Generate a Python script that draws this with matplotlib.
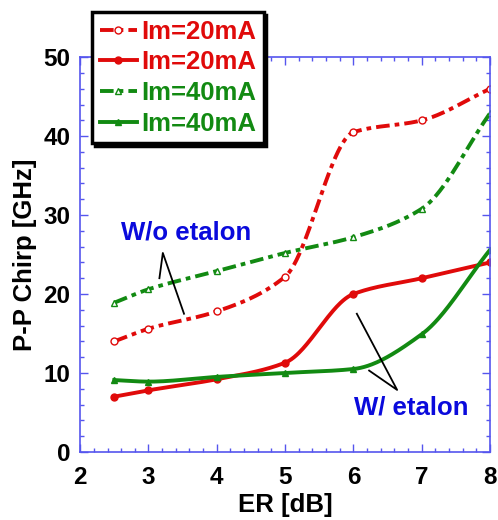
import numpy as np
import matplotlib
matplotlib.use('Agg')
import matplotlib.pyplot as plt
from matplotlib.ticker import MultipleLocator

plt.rcParams['font.family'] = ['Liberation Sans', 'DejaVu Sans']
plt.rcParams['font.weight'] = 'bold'

# datos
er = [2.5, 3, 4, 5, 6, 7, 8]
sin_et_20 = [14.0, 15.6, 17.8, 22.2, 40.5, 42.0, 46.0]
con_et_20 = [7.0, 7.8, 9.2, 11.3, 20.0, 22.0, 24.0]
sin_et_40 = [18.9, 20.6, 22.9, 25.2, 27.2, 30.8, 42.9]
con_et_40 = [9.1, 8.9, 9.5, 10.0, 10.5, 14.9, 25.6]
etiquetas = ['Im=20mA', 'Im=20mA', 'Im=40mA', 'Im=40mA']

rojo = '#e00a0a'
verde = '#128a12'
azul = '#0a0adc'
eje = '#5555ee'


def pchip(x, y, xs):
    # interpolacion cubica monotona (solo para suavizar la curva dibujada)
    x = np.asarray(x, float)
    y = np.asarray(y, float)
    h = np.diff(x)
    d = np.diff(y) / h
    m = np.zeros_like(y)
    for k in range(1, len(x) - 1):
        if d[k-1] * d[k] > 0:
            w1 = 2*h[k] + h[k-1]
            w2 = h[k] + 2*h[k-1]
            m[k] = (w1 + w2) / (w1/d[k-1] + w2/d[k])
    m[0] = d[0]
    m[-1] = d[-1]
    ys = np.empty_like(xs)
    for i, xv in enumerate(xs):
        k = min(np.searchsorted(x, xv, side='right') - 1, len(x) - 2)
        t = (xv - x[k]) / h[k]
        h00 = 2*t**3 - 3*t**2 + 1
        h10 = t**3 - 2*t**2 + t
        h01 = -2*t**3 + 3*t**2
        h11 = t**3 - t**2
        ys[i] = h00*y[k] + h10*h[k]*m[k] + h01*y[k+1] + h11*h[k]*m[k+1]
    return ys


fig = plt.figure(figsize=(4.98, 5.2), dpi=100)
ax = fig.add_axes([0.161, 0.131, 0.823, 0.759])

xs = np.linspace(er[0], er[-1], 300)
guion = (3.5, 1.3, 1.2, 1.3)
series = [
    (sin_et_20, rojo, 'o', True),
    (con_et_20, rojo, 'o', False),
    (sin_et_40, verde, '^', True),
    (con_et_40, verde, '^', False),
]
handles = []
for datos, col, mk, abierto in series:
    ln, = ax.plot(xs, pchip(er, datos, xs), color=col, lw=2.8)
    if abierto:
        ln.set_dashes(guion)
    ax.plot(er, datos, ls='none', marker=mk, ms=5,
            mfc='white' if abierto else col, mec=col, mew=1.0)
    h, = ax.plot([], [], color=col, lw=2.8, marker=mk, ms=5,
                 mfc='white' if abierto else col, mec=col, mew=1.0)
    if abierto:
        h.set_dashes(guion)
    handles.append(h)

ax.set_xlim(2, 8)
ax.set_ylim(0, 50)
ax.xaxis.set_major_locator(MultipleLocator(1))
ax.xaxis.set_minor_locator(MultipleLocator(0.2))
ax.yaxis.set_major_locator(MultipleLocator(10))
ax.yaxis.set_minor_locator(MultipleLocator(2))
ax.tick_params(which='both', direction='in', top=True, right=True, color=eje,
               labelsize=17.5, labelcolor='black')
ax.tick_params(which='major', length=6, width=1)
ax.tick_params(which='minor', length=3, width=1)
ax.tick_params(axis='x', pad=10)
ax.tick_params(axis='y', pad=7)
for s in ax.spines.values():
    s.set_color(eje)
    s.set_linewidth(1.2)

ax.set_xlabel('ER [dB]', fontsize=18.5, fontweight='bold', labelpad=3)
ax.set_ylabel('P-P Chirp [GHz]', fontsize=18.5, fontweight='bold', labelpad=5)

# anotaciones
ax.text(3.55, 27.8, 'W/o etalon', color=azul, fontsize=18.5, fontweight='bold',
        ha='center', va='center')
ax.plot([3.16, 3.21, 3.52], [22.0, 25.2, 17.5], color='black', lw=1.3)
ax.text(6.85, 5.6, 'W/ etalon', color=azul, fontsize=18.5, fontweight='bold',
        ha='center', va='center')
ax.plot([6.05, 6.64, 6.23], [17.5, 7.85, 10.3], color='black', lw=1.3)

leg = fig.legend(handles, etiquetas, loc='upper left',
                 bbox_to_anchor=(0.185, 0.977), borderaxespad=0,
                 fontsize=18.5, handlelength=1.45,
                 handletextpad=0.15, labelspacing=0.26, borderpad=0.3,
                 fancybox=False, shadow={'color': 'black', 'alpha': 1},
                 framealpha=1, edgecolor='black')
leg.get_frame().set_linewidth(2.5)
for t, (datos, col, mk, ab) in zip(leg.get_texts(), series):
    t.set_color(col)
    t.set_fontweight('bold')

fig.savefig('out.png', dpi=100)
